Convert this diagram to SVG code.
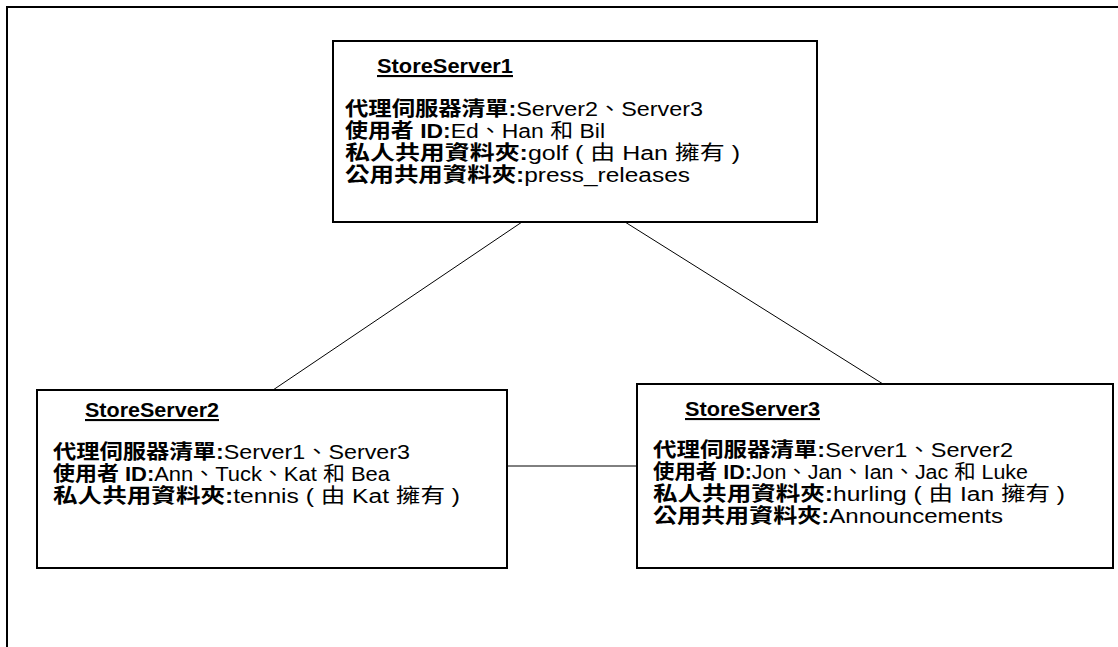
<svg xmlns="http://www.w3.org/2000/svg" width="1118" height="647" viewBox="0 0 1118 647">
<style>
.frame{fill:none;stroke:#000;stroke-width:2}
.box{fill:#fff;stroke:#000;stroke-width:2}
.conn{fill:none;stroke:#000;stroke-width:1}
.title{font-family:"Liberation Sans","Noto Sans CJK TC",sans-serif;font-weight:bold;font-size:21px;text-decoration:underline;fill:#000}
.ln{font-family:"Liberation Sans","Noto Sans CJK TC",sans-serif;font-size:20px;fill:#000}
.lb{font-weight:bold}
</style>
<rect width="1118" height="647" fill="#fff"/>
<path class="frame" d="M7,647 V7 H1118"/>
<g id="connectors">
<line class="conn" x1="522" y1="222" x2="273" y2="390"/>
<line class="conn" x1="625" y1="222" x2="883" y2="384"/>
<line class="conn" x1="507" y1="466" x2="637" y2="466"/>
</g>
<g id="storeserver1">
<rect class="box" x="333" y="41" width="484" height="181"/>
<text class="title" x="377" y="73" textLength="136" lengthAdjust="spacingAndGlyphs">StoreServer1</text>
<text class="ln" x="345" y="116" textLength="358" lengthAdjust="spacingAndGlyphs"><tspan class="lb">代理伺服器清單:</tspan>Server2、Server3</text>
<text class="ln" x="345" y="138" textLength="260" lengthAdjust="spacingAndGlyphs"><tspan class="lb">使用者 ID:</tspan>Ed、Han 和 Bil</text>
<text class="ln" x="345" y="160" textLength="395" lengthAdjust="spacingAndGlyphs"><tspan class="lb">私人共用資料夾:</tspan>golf ( 由 Han 擁有 )</text>
<text class="ln" x="345" y="182" textLength="345" lengthAdjust="spacingAndGlyphs"><tspan class="lb">公用共用資料夾:</tspan>press_releases</text>
</g>
<g id="storeserver2">
<rect class="box" x="37" y="390" width="470" height="178"/>
<text class="title" x="85" y="417" textLength="134" lengthAdjust="spacingAndGlyphs">StoreServer2</text>
<text class="ln" x="53" y="459" textLength="357" lengthAdjust="spacingAndGlyphs"><tspan class="lb">代理伺服器清單:</tspan>Server1、Server3</text>
<text class="ln" x="53" y="481" textLength="337" lengthAdjust="spacingAndGlyphs"><tspan class="lb">使用者 ID:</tspan>Ann、Tuck、Kat 和 Bea</text>
<text class="ln" x="53" y="503" textLength="407" lengthAdjust="spacingAndGlyphs"><tspan class="lb">私人共用資料夾:</tspan>tennis ( 由 Kat 擁有 )</text>
</g>
<g id="storeserver3">
<rect class="box" x="637" y="384" width="476" height="184"/>
<text class="title" x="685" y="416" textLength="135" lengthAdjust="spacingAndGlyphs">StoreServer3</text>
<text class="ln" x="653" y="457" textLength="360" lengthAdjust="spacingAndGlyphs"><tspan class="lb">代理伺服器清單:</tspan>Server1、Server2</text>
<text class="ln" x="653" y="479" textLength="375" lengthAdjust="spacingAndGlyphs"><tspan class="lb">使用者 ID:</tspan>Jon、Jan、Ian、Jac 和 Luke</text>
<text class="ln" x="653" y="501" textLength="412" lengthAdjust="spacingAndGlyphs"><tspan class="lb">私人共用資料夾:</tspan>hurling ( 由 Ian 擁有 )</text>
<text class="ln" x="653" y="523" textLength="350" lengthAdjust="spacingAndGlyphs"><tspan class="lb">公用共用資料夾:</tspan>Announcements</text>
</g>
</svg>
